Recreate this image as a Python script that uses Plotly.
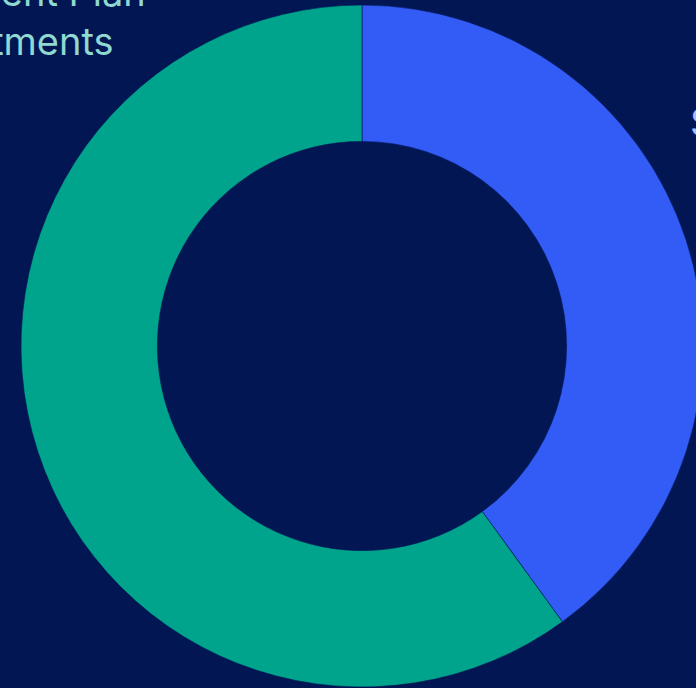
import plotly.graph_objects as go

labels = ["Savings", "Retirement Plan Investments"]
values = [40, 60]
colors = ["#325CF5", "#00A38B"]
label_texts = ["Savings", "Retirement Plan<br>Investments"]
label_colors = ["#A3BBFF", "#8FD9D0"]

W, H = 710, 688
BG = "#021654"

fig = go.Figure(go.Pie(
    labels=labels,
    values=values,
    hole=0.6,
    sort=False,
    direction="clockwise",
    rotation=0,
    textinfo="none",
    hoverinfo="label+percent",
    marker=dict(colors=colors, line=dict(color=BG, width=0.6)),
    domain=dict(x=[21 / W, 703 / W], y=[1 / H, 683 / H]),
    showlegend=False,
))

fig.add_annotation(
    text=label_texts[1], x=5 / W, y=1 - 16 / H, xref="paper", yref="paper",
    xanchor="center", yanchor="middle", align="center", showarrow=False,
    font=dict(family="Inter", size=38, color=label_colors[1]),
)
fig.add_annotation(
    text=label_texts[0], x=688 / W, y=1 - 122 / H, xref="paper", yref="paper",
    xanchor="left", yanchor="middle", align="left", showarrow=False,
    font=dict(family="Inter", size=38, color=label_colors[0]),
)

fig.update_layout(
    width=W, height=H,
    margin=dict(l=0, r=0, t=0, b=0),
    paper_bgcolor=BG, plot_bgcolor=BG,
)

fig.write_html(
    "out.html",
    post_script="document.documentElement.style.overflow='hidden';document.body.style.overflow='hidden';document.body.style.margin='0';",
)
